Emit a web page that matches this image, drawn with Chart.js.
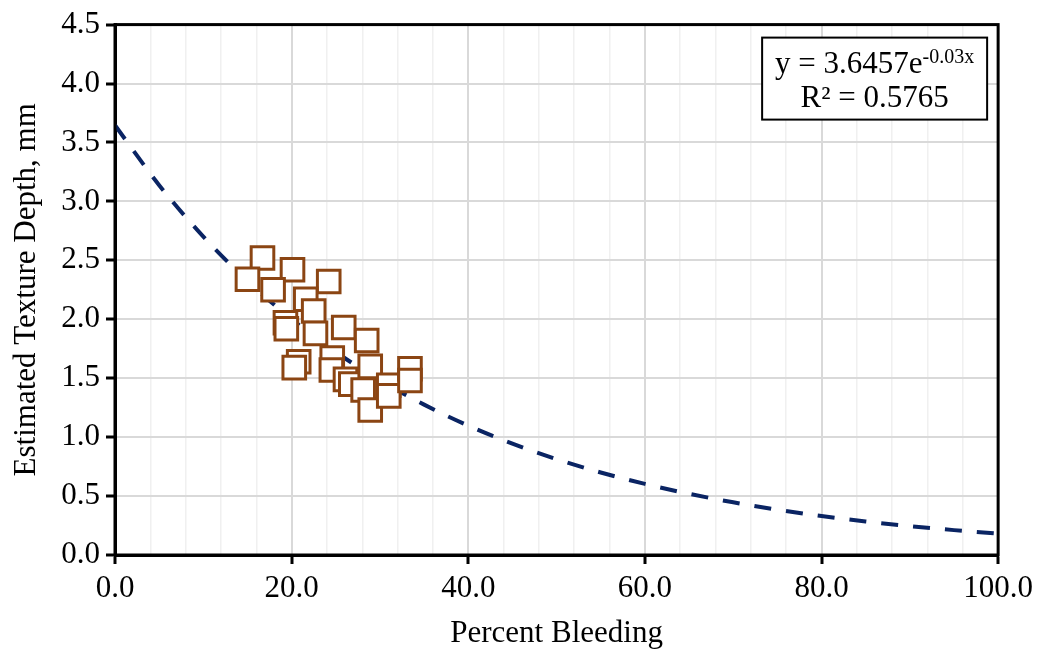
<!DOCTYPE html>
<html>
<head>
<meta charset="utf-8">
<script src="https://cdn.jsdelivr.net/npm/chart.js@4.4.1/dist/chart.umd.min.js"></script>
<style>
  html, body { margin: 0; padding: 0; background: #fff; }
  #wrap { width: 1039px; height: 652px; position: relative; }
</style>
</head>
<body>
<div id="wrap"><canvas id="c" width="1039" height="652"></canvas></div>
<script>
// ---- Data ----
const bleedingPct = [16.7, 15.0, 20.1, 17.9, 24.2, 21.6, 22.5, 19.3, 19.4, 22.7, 25.9, 28.5, 20.8, 20.3, 24.6, 24.5, 26.1, 26.7, 28.9, 28.1, 28.9, 31.0, 31.0, 33.4, 33.4];
const textureDepth = [2.52, 2.34, 2.42, 2.25, 2.32, 2.17, 2.07, 1.97, 1.92, 1.88, 1.93, 1.82, 1.64, 1.59, 1.67, 1.57, 1.49, 1.45, 1.60, 1.40, 1.23, 1.44, 1.35, 1.58, 1.48];
// Exponential trendline (as drawn): y = 3.6457e^(-0.03x), sampled values
const trendX = [0, 5, 10, 15, 20, 25, 30, 35, 40, 45, 50, 55, 60, 65, 70, 75, 80, 85, 90, 95, 100];
const trendY = [3.646, 3.138, 2.701, 2.325, 2.001, 1.722, 1.482, 1.276, 1.098, 0.945, 0.813, 0.700, 0.603, 0.519, 0.447, 0.384, 0.331, 0.285, 0.245, 0.211, 0.182];
const xTickLabels = ['0.0', '20.0', '40.0', '60.0', '80.0', '100.0'];
const yTickLabels = ['0.0', '0.5', '1.0', '1.5', '2.0', '2.5', '3.0', '3.5', '4.0', '4.5'];
const equationText = 'y = 3.6457e';
const equationExp = '-0.03x';
const r2Text = 'R\u00B2 = 0.5765';
const xTitle = 'Percent Bleeding';
const yTitle = 'Estimated Texture Depth, mm';

const FONT = "'Liberation Serif', 'Times New Roman', serif";

const scatterData = bleedingPct.map((x, i) => ({ x: x, y: textureDepth[i] }));
const trendData = trendX.map((x, i) => ({ x: x, y: trendY[i] }));

const frameAndBox = {
  id: 'frameAndBox',
  afterDraw(chart) {
    const ctx = chart.ctx;
    const a = chart.chartArea;
    ctx.save();
    // plot frame
    ctx.strokeStyle = '#000';
    ctx.lineWidth = 3;
    ctx.strokeRect(a.left, a.top, a.right - a.left, a.bottom - a.top);
    // equation box
    const bx1 = a.right - 236, by1 = a.top + 13, bx2 = a.right - 11, by2 = a.top + 95;
    ctx.fillStyle = '#fff';
    ctx.fillRect(bx1, by1, bx2 - bx1, by2 - by1);
    ctx.lineWidth = 2;
    ctx.strokeRect(bx1, by1, bx2 - bx1, by2 - by1);
    ctx.fillStyle = '#000';
    ctx.textBaseline = 'alphabetic';
    ctx.textAlign = 'left';
    const cx = (bx1 + bx2) / 2;
    ctx.font = '31px ' + FONT;
    const w1 = ctx.measureText(equationText).width;
    ctx.font = '20px ' + FONT;
    const w2 = ctx.measureText(equationExp).width;
    const start = cx - (w1 + w2) / 2;
    ctx.font = '31px ' + FONT;
    ctx.fillText(equationText, start, by1 + 35);
    ctx.font = '20px ' + FONT;
    ctx.fillText(equationExp, start + w1, by1 + 25);
    ctx.font = '31px ' + FONT;
    ctx.textAlign = 'center';
    ctx.fillText(r2Text, cx, by1 + 69);
    ctx.restore();
  }
};

new Chart(document.getElementById('c'), {
  type: 'scatter',
  data: {
    datasets: [
      {
        label: 'Data',
        data: scatterData,
        pointStyle: 'rect',
        pointRadius: 16,
        pointHoverRadius: 16,
        pointBorderWidth: 3,
        pointBorderColor: '#8B4513',
        pointBackgroundColor: '#ffffff',
        order: 1
      },
      {
        label: 'Trend',
        type: 'line',
        data: trendData,
        showLine: true,
        borderColor: '#0a2463',
        borderWidth: 4,
        borderDash: [17, 15],
        pointRadius: 0,
        fill: false,
        cubicInterpolationMode: 'monotone',
        order: 2
      }
    ]
  },
  options: {
    responsive: false,
    animation: false,
    events: [],
    layout: { padding: { top: 23, right: 36, left: 0, bottom: 0 } },
    plugins: { legend: { display: false }, tooltip: { enabled: false } },
    scales: {
      x: {
        type: 'linear',
        min: 0, max: 100,
        afterFit(s) { s.height = 97; },
        ticks: {
          stepSize: 4,
          autoSkip: false,
          maxRotation: 0,
          padding: 6,
          color: '#000',
          font: { family: FONT, size: 31 },
          callback: (v) => (Math.round(v) % 20 === 0 ? xTickLabels[Math.round(v) / 20] : '')
        },
        grid: {
          color: (c) => (c.tick && Math.round(c.tick.value) % 20 === 0 ? '#d9d9d9' : '#f0f0f0'),
          lineWidth: (c) => (c.tick && Math.round(c.tick.value) % 20 === 0 ? 2 : 1.5),
          tickColor: (c) => (c.tick && Math.round(c.tick.value) % 20 === 0 ? '#000' : 'rgba(0,0,0,0)'),
          tickLength: 9,
          tickWidth: 3
        },
        border: { display: true, color: '#000', width: 3 },
        title: {
          display: true,
          text: xTitle,
          color: '#000',
          font: { family: FONT, size: 31 },
          padding: { top: 0, bottom: 0 }
        }
      },
      y: {
        type: 'linear',
        min: 0, max: 4.5,
        afterFit(s) { s.width = 115; },
        ticks: {
          stepSize: 0.5,
          autoSkip: false,
          padding: 6,
          color: '#000',
          font: { family: FONT, size: 31 },
          callback: (v) => yTickLabels[Math.round(v * 2)]
        },
        grid: {
          color: '#d9d9d9',
          lineWidth: 2,
          tickColor: '#000',
          tickLength: 9,
          tickWidth: 3
        },
        border: { display: true, color: '#000', width: 3 },
        title: {
          display: true,
          text: yTitle,
          color: '#000',
          font: { family: FONT, size: 31 },
          padding: { top: 8, bottom: 0 }
        }
      }
    }
  },
  plugins: [frameAndBox]
});
</script>
</body>
</html>
